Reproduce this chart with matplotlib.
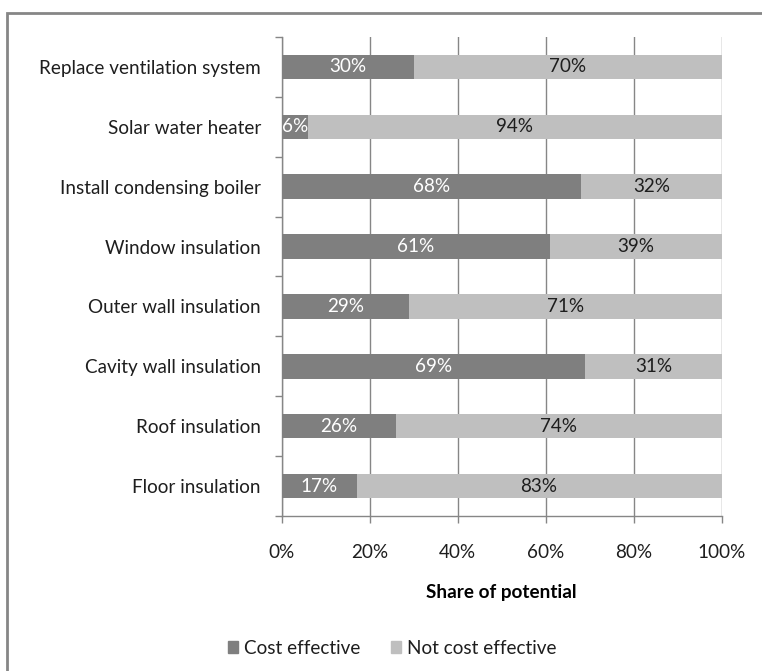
import matplotlib
matplotlib.use("Agg")
import matplotlib.pyplot as plt
from matplotlib.patches import Rectangle
from matplotlib.ticker import FixedLocator

measures = [
    "Floor insulation",
    "Roof insulation",
    "Cavity wall insulation",
    "Outer wall insulation",
    "Window insulation",
    "Install condensing boiler",
    "Solar water heater",
    "Replace ventilation system",
]
cost_effective = [17, 26, 69, 29, 61, 68, 6, 30]
not_cost_effective = [83, 74, 31, 71, 39, 32, 94, 70]
x_ticks = [0, 20, 40, 60, 80, 100]
x_tick_labels = ["0%", "20%", "40%", "60%", "80%", "100%"]

DARK = "#7f7f7f"
LIGHT = "#bfbfbf"
GRID = "#868686"
TEXT = "#1e1e1e"
FS = 13.6

plt.rcParams["font.family"] = ["Lato", "DejaVu Sans"]

fig = plt.figure(figsize=(7.62, 6.71), dpi=100)
ax = fig.add_axes([0.3697, 0.231, 0.5774, 0.7139])

y = list(range(len(measures)))
ax.barh(y, cost_effective, height=0.41, color=DARK, zorder=3)
ax.barh(y, not_cost_effective, left=cost_effective, height=0.41,
        color=LIGHT, zorder=3)

for i, (a, b) in enumerate(zip(cost_effective, not_cost_effective)):
    ax.text(a / 2, i, f"{a}%", ha="center", va="center", color="white",
            fontsize=FS, zorder=4)
    ax.text(a + b / 2, i, f"{b}%", ha="center", va="center", color=TEXT,
            fontsize=FS, zorder=4)

ax.set_xlim(0, 100)
ax.set_ylim(-0.5, len(measures) - 0.5)
ax.set_xticks(x_ticks)
ax.set_xticklabels(x_tick_labels, fontsize=FS, color=TEXT)
ax.set_yticks(y)
ax.set_yticklabels(measures, fontsize=FS, color=TEXT)
ax.tick_params(axis="y", length=0, pad=15)
ax.yaxis.set_minor_locator(FixedLocator([i - 0.5 for i in range(len(measures) + 1)]))
ax.tick_params(axis="y", which="minor", length=5, color=GRID, width=1)
ax.tick_params(axis="x", length=5, color=GRID, width=1, pad=15)
ax.grid(axis="x", color=GRID, linewidth=1, zorder=0)

for side in ["top", "right"]:
    ax.spines[side].set_visible(False)
for side in ["left", "bottom"]:
    ax.spines[side].set_color(GRID)
    ax.spines[side].set_linewidth(1)

ax.set_xlabel("Share of potential", fontsize=FS, fontweight="bold",
              color="black", labelpad=17)

handles = [Rectangle((0, 0), 1, 1, color=DARK), Rectangle((0, 0), 1, 1, color=LIGHT)]
fig.legend(handles, ["Cost effective", "Not cost effective"], loc="center",
           bbox_to_anchor=(0.5145, 0.034), ncol=2, frameon=False, fontsize=FS,
           labelcolor=TEXT, handlelength=0.55, handleheight=0.55,
           handletextpad=0.3, columnspacing=1.6)

# chart frame
fig.patches.append(Rectangle((7 / 762, -0.1), 1.1, 1 - 13 / 671 + 0.1,
                             transform=fig.transFigure, fill=False,
                             edgecolor=GRID, linewidth=2))

fig.savefig("out.png", dpi=100)
